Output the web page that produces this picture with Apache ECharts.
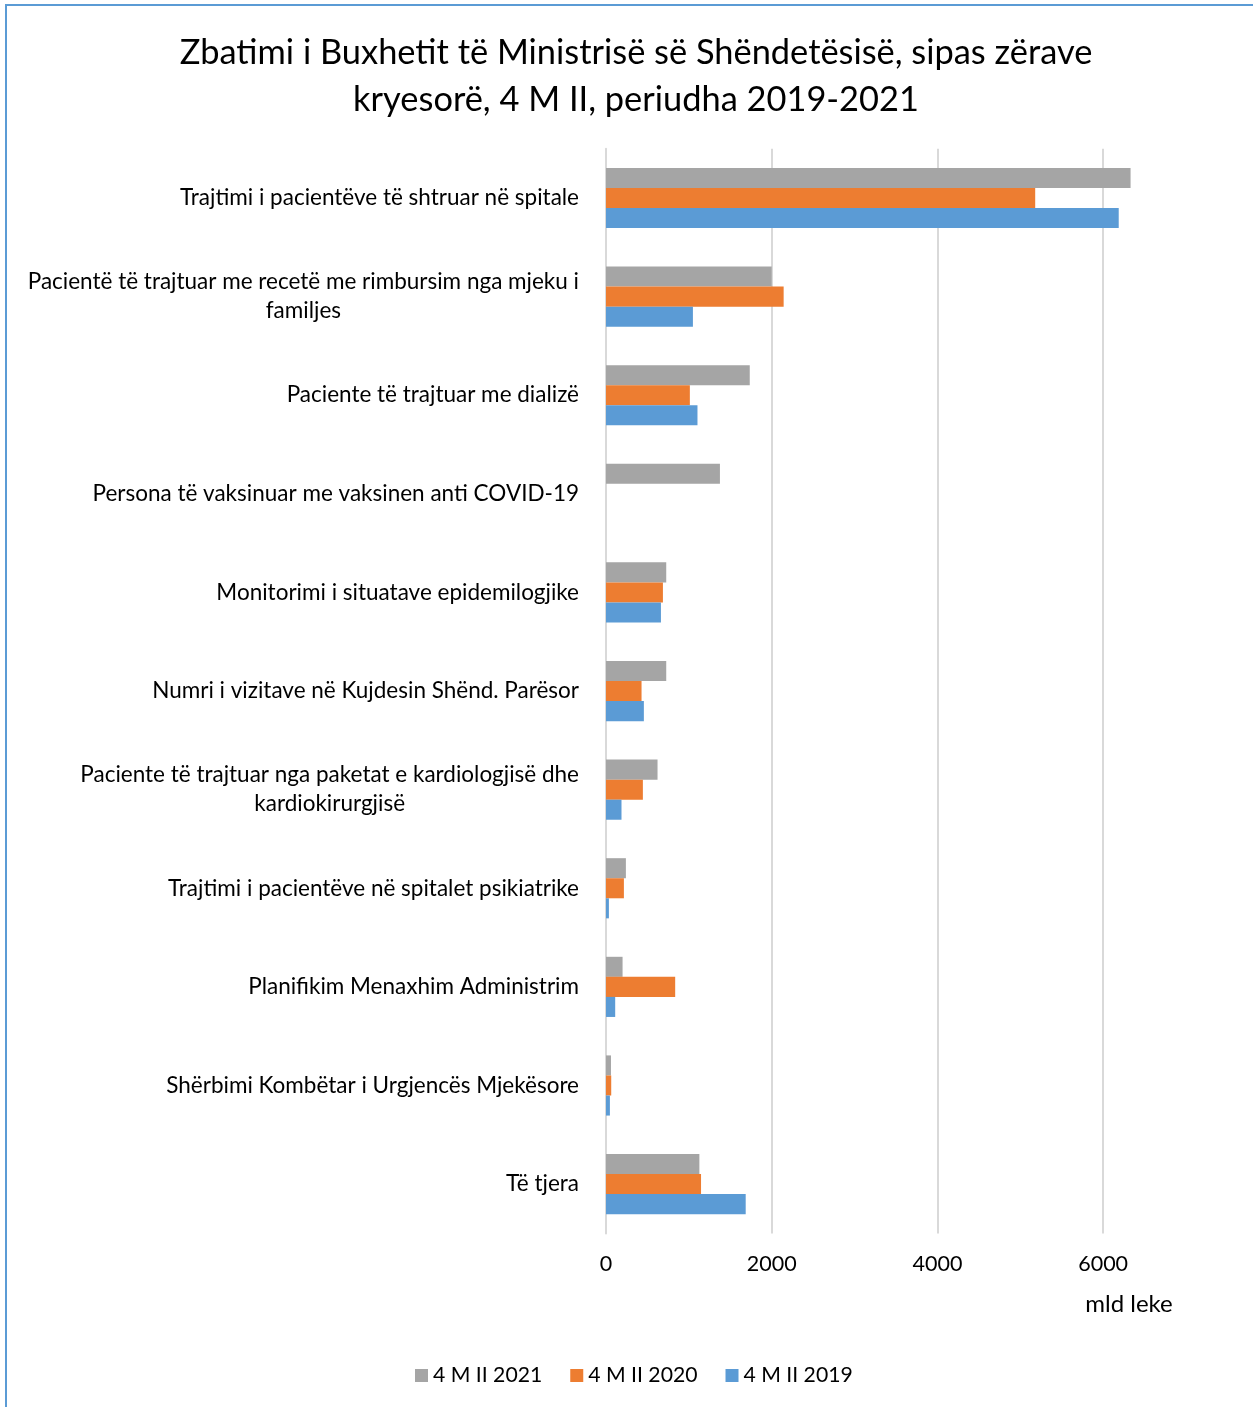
<!DOCTYPE html>
<html><head><meta charset="utf-8">
<script src="https://cdn.jsdelivr.net/npm/echarts@6/dist/echarts.min.js"></script>
<style>html,body{margin:0;padding:0;background:#fff}#c{width:1253px;height:1407px}</style>
</head><body><div id="c"></div>
<script>
const categories = [
  'Trajtimi i pacientëve të shtruar në spitale',
  'Pacientë të trajtuar me recetë me rimbursim nga mjeku i\nfamiljes',
  'Paciente të trajtuar me dializë',
  'Persona të vaksinuar me vaksinen anti COVID-19',
  'Monitorimi i situatave epidemilogjike',
  'Numri i vizitave në Kujdesin Shënd. Parësor',
  'Paciente të trajtuar nga paketat e kardiologjisë dhe\nkardiokirurgjisë',
  'Trajtimi i pacientëve në spitalet psikiatrike',
  'Planifikim Menaxhim Administrim',
  'Shërbimi Kombëtar i Urgjencës Mjekësore',
  'Të tjera'
];
const seriesNames = ['4 M II 2021', '4 M II 2020', '4 M II 2019'];
const values2021 = [6331, 2000, 1735, 1375, 727, 727, 622, 240, 200, 60, 1127];
const values2020 = [5180, 2144, 1012, null, 687, 429, 445, 216, 835, 63, 1147];
const values2019 = [6188, 1049, 1104, null, 663, 457, 187, 35, 111, 47, 1686];
const xTickInterval = 2000;
const xMax = 7000;
const titleText = 'Zbatimi i Buxhetit të Ministrisë së Shëndetësisë, sipas zërave\nkryesorë, 4 M II, periudha 2019-2021';
const axisUnit = 'mld leke';

const FONT = 'Lato';
const colors = ['#a5a5a5', '#ed7d31', '#5b9bd5'];

const chart = echarts.init(document.getElementById('c'), null, {renderer: 'canvas'});

chart.setOption({
  animation: false,
  backgroundColor: '#fff',
  title: {
    text: titleText,
    left: 631,
    textAlign: 'center',
    top: 24,
    textStyle: {fontFamily: FONT, fontSize: 34.4, fontWeight: 'normal', color: '#000', lineHeight: 47}
  },
  legend: {
    data: seriesNames,
    left: 415,
    top: 1365,
    padding: 0,
    icon: 'rect',
    itemWidth: 13,
    itemHeight: 13,
    itemGap: 28,
    textStyle: {fontFamily: FONT, fontSize: 21.2, color: '#000'}
  },
  grid: {left: 606, right: 67, top: 148.7, bottom: 173.6},
  xAxis: {
    type: 'value',
    min: 0,
    max: xMax,
    interval: xTickInterval,
    axisLine: {show: false},
    axisTick: {show: false},
    axisLabel: {fontFamily: FONT, fontSize: 21.5, color: '#000', margin: 20, showMaxLabel: false,
      formatter: function (v) { return String(v); }},
    splitLine: {show: true, showMinLine: false, showMaxLine: false, lineStyle: {color: '#d9d9d9', width: 2}}
  },
  yAxis: {
    type: 'category',
    data: categories,
    inverse: true,
    axisLine: {show: true, lineStyle: {color: '#d9d9d9', width: 2}},
    axisTick: {show: false},
    axisLabel: {
      margin: 27,
      align: 'right',
      fontFamily: FONT, fontSize: 22.5, color: '#000',
      formatter: function (v) {
        return v.split('\n').map(function (l) { return '{c|' + l + '}'; }).join('\n');
      },
      rich: {c: {align: 'center', fontFamily: FONT, fontSize: 22.5, color: '#000', lineHeight: 29}}
    }
  },
  series: [
    {name: seriesNames[0], type: 'bar', data: values2021, itemStyle: {color: colors[0]}, barGap: '0%', barCategoryGap: '39%'},
    {name: seriesNames[1], type: 'bar', data: values2020, itemStyle: {color: colors[1]}, barGap: '0%', barCategoryGap: '39%'},
    {name: seriesNames[2], type: 'bar', data: values2019, itemStyle: {color: colors[2]}, barGap: '0%', barCategoryGap: '39%'}
  ],
  graphic: [
    {type: 'rect', shape: {x: 6, y: 5, width: 1400, height: 1600}, style: {fill: 'none', stroke: '#5b9bd5', lineWidth: 2}, silent: true, z: 100},
    {type: 'text', x: 1129, y: 1304, style: {text: axisUnit, fontFamily: FONT, fontSize: 24, fill: '#000', textAlign: 'center', textVerticalAlign: 'middle'}}
  ]
});
</script>
</body></html>
